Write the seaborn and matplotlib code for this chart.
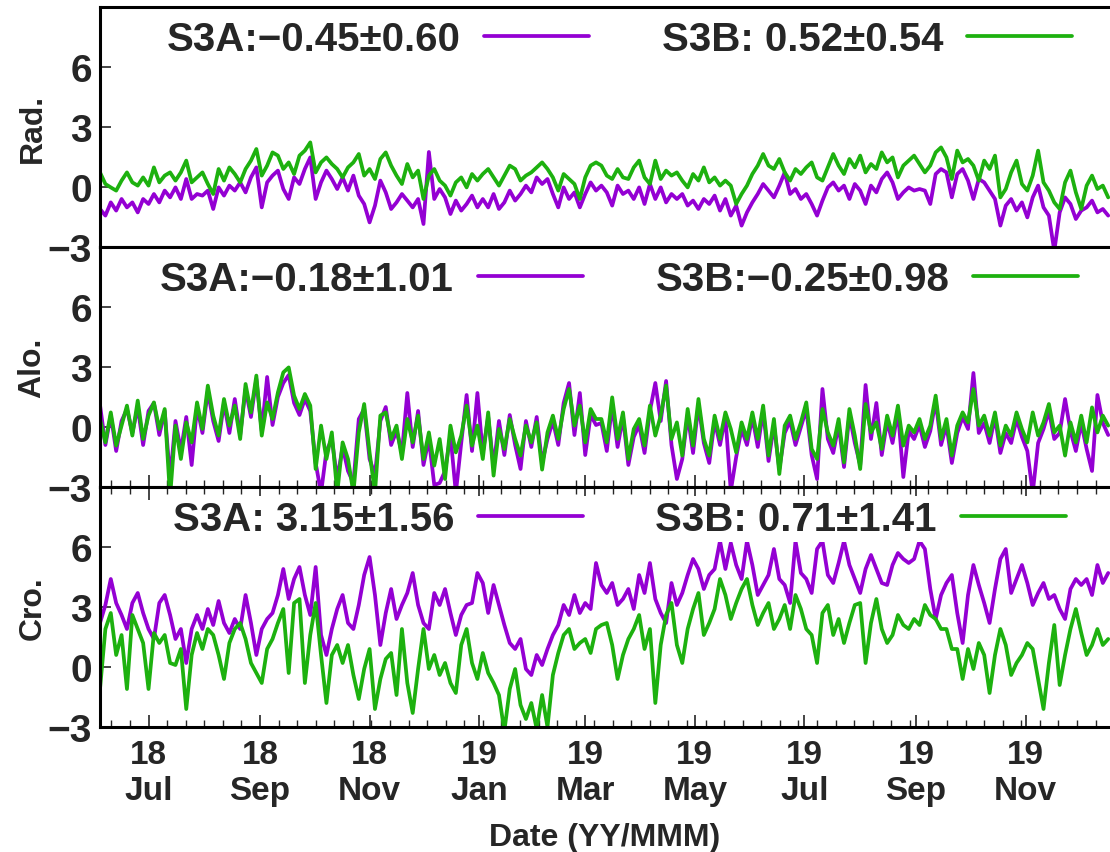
import pandas as pd
import matplotlib.pyplot as plt
import matplotlib.dates as mdates
from matplotlib.lines import Line2D
from matplotlib.ticker import AutoMinorLocator
import seaborn as sns

# Samples, one every 3 days from 2018-06-04
start_date = '2018-06-04'
step_days = 3

# Radial
rad_s3a = [-1.1, -1.43, -0.77, -1.18, -0.6, -1.02, -0.77, -1.27, -0.6, -0.85,
           -0.35, -0.77, -0.18, -0.52, -0.02, -0.6, 0.4, -0.6, -0.35, -0.43,
           -0.18, -1.1, -0.02, -0.43, 0.07, -0.18, 0.23, -0.27, 0.48, 0.98,
           -1.02, 0.23, 0.57, 0.82, -0.1, -0.6, 0.48, 0.15, 0.9, 1.48,
           -0.6, 0.23, 0.82, 0.4, -0.1, 0.48, -0.18, 0.57, -0.43, -0.85,
           -1.77, -0.93, 0.32, -0.27, -1.1, -0.77, -0.35, -0.68, -1.02, -0.6,
           -1.85, 1.75, -0.6, -0.1, -0.52, -1.35, -0.68, -1.18, -0.85, -0.43,
           -1.02, -0.6, -1.02, -0.35, -1.1, -0.77, -0.18, -0.68, -0.35, 0.07,
           -0.27, 0.48, 0.15, 0.4, -0.35, -1.02, -0.02, -0.6, -0.27, -1.02,
           -0.35, 0.23, -0.18, 0.07, -0.27, -0.93, 0.07, -0.35, -0.18, -0.6,
           -0.02, -0.85, 0.15, -0.6, -0.02, -0.77, -0.35, -0.6, -0.35, -0.93,
           -0.68, -1.1, -0.6, -0.85, -0.43, -1.18, -0.6, -1.43, -0.93, -1.93,
           -1.27, -0.77, -0.35, 0.15, -0.18, -0.52, 0.07, 0.73, -0.35, -0.1,
           -0.6, -0.35, -0.85, -1.43, -0.68, -0.02, 0.23, -0.18, 0.07, -0.6,
           0.15, -0.18, -0.85, 0.07, -0.27, 0.4, 0.73, 0.23, -0.6, -0.27,
           -0.02, -0.18, -0.1, -0.18, -0.85, 0.65, 0.9, 0.73, -0.52, 0.65,
           0.9, 0.32, -0.6, 0.4, 0.23, -0.18, -0.6, -1.93, -0.93, -0.6,
           -1.18, -0.77, -1.52, -0.52, 0.07, -1.02, -1.43, -3.2, -1.27, -0.52,
           -0.85, -1.6, -1.18, -1.02, -0.68, -1.27, -1.1, -1.43]
rad_s3b = [0.73, 0.15, -0.02, -0.18, 0.32, 0.73, 0.23, 0.07, 0.48, 0.07,
           0.98, 0.23, 0.57, 0.73, 0.32, 0.73, 1.32, 0.23, 0.48, 0.73,
           0.15, -0.35, 0.9, 0.32, 0.98, 0.65, 0.23, 0.9, 1.32, 1.9,
           0.57, 1.07, 1.73, 1.57, 0.9, 1.23, 0.65, 1.57, 1.82, 2.23,
           0.73, 1.23, 1.48, 1.15, 0.9, 0.48, 0.98, 1.23, 1.65, 0.57,
           0.9, 0.4, 1.4, 1.73, 1.07, 0.57, 0.15, 1.15, 0.48, 0.82,
           -0.6, 0.57, 0.9, 0.32, 0.07, -0.43, 0.23, 0.48, -0.02, 0.65,
           0.32, 0.65, 0.9, 0.48, 0.07, 0.57, 1.07, 0.9, 0.32, 0.57,
           0.73, 0.98, 1.23, 0.9, 0.48, -0.18, 0.65, 0.4, 0.15, -0.6,
           0.48, 1.07, 1.23, 1.07, 0.57, 0.4, 0.9, 0.48, 0.4, 0.98,
           1.32, 0.48, 0.15, 1.32, 0.4, 0.82, 0.57, 0.73, 0.32, -0.02,
           0.65, 0.32, 0.98, 0.23, 0.48, 0.07, 0.32, 0.07, -0.85, -0.35,
           0.07, 0.65, 1.07, 1.65, 1.07, 0.9, 1.4, 0.73, 0.32, 0.9,
           0.65, 0.98, 1.23, 0.48, 0.32, 0.98, 1.65, 1.07, 0.65, 1.4,
           0.98, 1.57, 0.73, 1.15, 0.9, 1.73, 1.23, 1.48, 0.48, 1.07,
           1.32, 1.57, 1.15, 0.73, 1.07, 1.73, 1.98, 1.48, 0.4, 1.82,
           1.23, 1.4, 1.07, 0.32, 1.32, 0.9, 1.57, -0.52, -0.1, 0.73,
           1.32, 0.15, -0.18, 0.57, 1.82, 0.23, -0.18, -0.77, -1.1, 0.23,
           0.82, -0.27, -1.1, 0.07, 0.57, -0.1, 0.07, -0.52]

# Along-track
alo_s3a = [1.1, -0.9, 0.6, -1.2, 0.3, 0.9, -0.3, 1.0, -0.9, 0.8,
           1.2, -0.4, 0.8, -2.6, 0.3, -1.2, 0.5, -1.9, 1.0, -0.3,
           1.8, 0.3, -0.7, 1.2, -0.3, 1.4, -0.4, 1.9, 0.5, 2.4,
           -0.2, 2.5, 0.1, 1.5, 2.2, 2.6, 1.2, 0.6, 1.4, 0.8,
           -1.8, -3.3, -1.2, -0.6, -2.6, -1.0, -2.2, -2.8, 0.4, 0.9,
           -1.6, -2.4, 0.3, 1.0, -0.9, -0.2, -1.3, 1.7, -1.0, 0.8,
           -1.9, -0.6, -2.9, -2.8, -2.2, -0.4, -3.3, -0.8, 1.6, -1.2,
           1.7, -1.3, 0.5, -2.0, 0.3, -1.4, 0.6, -0.9, -2.1, 0.3,
           -1.0, 0.5, -1.8, -0.6, 0.3, -0.9, 1.2, 2.2, -0.4, 1.7,
           -1.4, 0.6, 0.1, 0.2, -1.2, 1.1, -1.0, 0.5, -1.9, -0.5,
           0.1, -1.3, 0.8, 2.2, 0.3, 2.3, -0.9, -2.6, -1.6, 0.6,
           -1.3, 1.1, -0.8, -1.8, 0.3, -0.9, 0.5, -3.2, -1.5, -0.1,
           -0.9, 0.5, -1.0, 0.8, -1.7, 0.1, -2.1, -0.3, 0.3, -0.9,
           0.0, 0.9, -1.4, -2.6, 1.9, -0.6, -1.3, 0.1, -2.0, 0.6,
           -0.8, -1.9, 2.1, -0.6, 1.2, -1.4, 0.3, -0.8, 0.8, -2.5,
           -0.2, -0.6, 0.1, -1.0, -0.2, 1.3, -0.9, 0.1, -1.8, -0.3,
           0.5, -0.1, 2.7, -0.3, 0.2, -0.8, 0.5, -1.3, -0.3, -0.8,
           0.4, -0.5, -1.2, -3.3, -0.8, -0.1, 0.8, -0.6, -0.3, 1.4,
           -0.2, -1.2, 0.2, -1.1, -2.2, 1.6, 0.2, -0.4]
alo_s3b = [0.4, -0.77, 0.73, -0.93, 0.07, 1.07, -0.43, 1.32, -0.6, 0.57,
           1.23, -0.1, 0.9, -3.5, 0.07, -1.6, 0.23, -0.77, 1.23, -0.1,
           2.07, 0.57, -0.43, 1.4, 0.07, 1.07, -0.6, 2.15, 0.73, 2.57,
           -0.43, 1.23, 0.4, 1.73, 2.73, 2.98, 1.57, 0.9, 1.65, 1.07,
           -2.1, 0.07, -1.6, -0.27, -3.3, -0.77, -1.6, -3.3, -0.27, 1.15,
           -1.27, -3.3, 0.57, 0.73, -0.6, 0.07, -1.6, 0.4, -0.77, 0.57,
           -1.6, -0.27, -1.93, -0.6, -2.6, 0.07, -1.27, -0.43, 1.07, -0.93,
           0.07, -1.6, 0.73, -2.43, -0.1, -1.1, 0.4, -0.6, -1.43, 0.07,
           -0.77, 0.23, -2.13, -0.27, 0.57, -0.6, 0.9, 1.9, 0.07, 1.07,
           -0.77, 0.9, 0.4, 0.4, -0.77, 1.48, -0.6, 0.73, -1.6, -0.1,
           0.4, -0.93, 1.07, -0.43, 0.57, 2.07, -0.6, 0.23, -1.43, 0.9,
           -0.93, 1.4, -0.6, -1.43, 0.57, -0.6, 0.73, -0.1, -1.27, 0.23,
           -0.6, 0.73, -0.6, 1.07, -1.43, 0.4, -2.35, 0.07, 0.57, -0.6,
           0.23, 1.23, -1.1, -1.6, 0.9, -0.27, -0.93, 0.4, -1.77, 0.9,
           -0.43, -2.1, 1.15, -0.27, 0.23, -1.1, 0.57, -0.43, 1.07, -0.93,
           0.07, -0.27, 0.4, -0.6, 0.07, 1.57, -0.6, 0.4, -1.43, 0.07,
           0.73, 0.23, 1.9, 0.07, 0.57, -0.43, 0.73, -0.93, 0.07, -0.43,
           0.73, -0.1, -0.77, 0.73, -0.43, 0.23, 1.15, -0.27, 0.07, -1.43,
           0.23, -0.77, 0.57, -0.77, 0.98, -0.27, 0.57, 0.07]

# Cross-track
cro_s3a = [2.2, 3.1, 4.4, 3.2, 2.6, 1.9, 3.2, 3.7, 2.7, 1.9,
           1.4, 3.2, 3.6, 2.6, 1.4, 1.9, 0.2, 1.9, 2.6, 1.9,
           2.9, 2.1, 3.3, 2.2, 1.7, 2.4, 1.9, 3.6, 2.2, 0.6,
           1.9, 2.4, 2.7, 3.6, 4.9, 3.4, 4.4, 5.0, 3.6, 2.6,
           5.0, 1.6, 0.6, 1.9, 2.9, 3.6, 2.2, 1.9, 3.1, 4.6,
           5.5, 3.6, 1.1, 2.7, 3.9, 2.4, 3.1, 3.7, 4.7, 3.1,
           2.2, 1.9, 3.7, 3.1, 3.9, 2.7, 1.6, 2.6, 3.1, 3.2,
           4.7, 4.2, 2.7, 4.1, 3.1, 2.1, 1.2, 0.9, 1.4, -0.1,
           -0.4, 0.6, 0.1, 0.9, 1.6, 2.1, 3.1, 2.6, 3.6, 2.7,
           3.2, 2.9, 5.2, 4.1, 3.7, 4.2, 3.1, 3.4, 3.9, 2.9,
           4.6, 3.7, 5.2, 3.4, 2.7, 2.2, 4.2, 3.1, 3.7, 4.6,
           5.4, 4.9, 3.9, 4.6, 4.9, 6.3, 4.9, 6.2, 5.1, 4.4,
           6.3, 5.1, 3.6, 4.1, 4.6, 5.9, 4.4, 4.1, 3.2, 6.3,
           4.7, 4.4, 3.7, 5.9, 6.3, 4.6, 4.2, 5.2, 6.3, 5.1,
           4.4, 3.7, 4.9, 5.6, 4.9, 4.2, 4.1, 5.1, 5.7, 5.4,
           5.2, 5.4, 6.3, 5.9, 3.9, 2.4, 3.6, 4.2, 4.6, 2.7,
           1.2, 3.6, 5.1, 4.1, 3.2, 2.2, 3.9, 5.4, 5.9, 3.7,
           4.4, 5.1, 4.2, 3.1, 3.7, 4.2, 3.4, 3.6, 2.9, 2.4,
           3.9, 4.4, 4.1, 4.4, 3.6, 5.1, 4.2, 4.7]
cro_s3b = [-1.1, 1.9, 2.7, 0.6, 1.6, -1.1, 2.6, 1.9, 1.2, -1.1,
           1.7, 1.2, 1.6, 0.2, 0.1, 0.9, -2.1, 0.6, 1.7, 0.9,
           1.9, 1.6, 0.6, -0.6, 1.2, 1.9, 2.2, 1.4, 0.2, -0.3,
           -0.8, 0.9, 1.4, 2.2, 2.9, -0.3, 3.2, 3.4, -0.8, 1.6,
           3.2, 0.6, -1.8, 0.6, 1.1, 0.2, 1.1, -0.4, -1.6, -0.1,
           0.9, -2.1, -0.6, 0.4, 0.7, -1.4, 1.9, -0.8, -2.3, -0.1,
           1.9, -0.1, 0.6, -0.4, 0.2, -0.8, -1.3, 1.1, 1.9, 0.2,
           -0.6, 0.7, -0.3, -0.8, -1.4, -3.2, -1.1, -0.1, -1.9, -2.6,
           -1.8, -3.1, -1.4, -3.0, -0.4, 0.7, 1.6, 1.9, 0.9, 1.2,
           1.4, 0.7, 1.9, 2.1, 2.2, 1.1, -0.6, 0.6, 1.4, 1.9,
           2.6, 0.9, 1.9, -1.8, 1.1, 2.6, 3.2, 1.1, 0.2, 1.9,
           2.9, 3.7, 1.6, 2.2, 2.9, 4.4, 3.6, 2.4, 3.2, 3.9,
           4.4, 3.1, 2.1, 2.7, 3.2, 1.9, 2.4, 3.1, 1.9, 3.6,
           2.9, 1.9, 1.6, 0.2, 2.7, 3.1, 1.6, 2.4, 1.2, 2.2,
           3.1, 3.2, 0.2, 2.2, 3.4, 1.9, 1.2, 1.6, 2.6, 2.1,
           1.9, 2.4, 2.1, 3.1, 2.6, 2.4, 1.9, 1.9, 0.9, 0.9,
           -0.6, 0.9, -0.1, 1.2, 0.6, -1.3, 0.6, 1.9, 1.1, -0.4,
           0.2, 0.6, 1.2, 0.9, -0.6, -2.1, 0.2, 2.1, -0.9, 0.6,
           1.9, 2.9, 1.7, 0.6, 1.1, 1.9, 1.1, 1.4]

panel_names = ['Rad.', 'Alo.', 'Cro.']
s3a_labels = ['S3A:\u22120.45\u00b10.60', 'S3A:\u22120.18\u00b11.01', 'S3A: 3.15\u00b11.56']
s3b_labels = ['S3B: 0.52\u00b10.54', 'S3B:\u22120.25\u00b10.98', 'S3B: 0.71\u00b11.41']

purple = '#9400d3'
green = '#1db10f'

sns.set_style('ticks')
plt.rcParams['font.family'] = ['Liberation Sans', 'DejaVu Sans']
plt.rcParams['font.weight'] = 'bold'
plt.rcParams['axes.labelweight'] = 'bold'

dates = pd.date_range(start_date, periods=len(rad_s3a), freq=f'{step_days}D')
series = [(rad_s3a, rad_s3b), (alo_s3a, alo_s3b), (cro_s3a, cro_s3b)]

fig = plt.figure(figsize=(11.1, 8.53), dpi=100)
W, H = 1110, 853
tops = [8, 248, 488]
for k in range(3):
    ax = fig.add_axes([100 / W, 1 - (tops[k] + 240) / H, 1010 / W, 240 / H])

    a_vals, b_vals = series[k]
    df = pd.DataFrame({'Date': dates, 'S3A': a_vals, 'S3B': b_vals})
    df = df.melt(id_vars='Date', var_name='Sat', value_name='Value')
    sns.lineplot(data=df, x='Date', y='Value', hue='Sat',
                 palette={'S3A': purple, 'S3B': green},
                 estimator=None, linewidth=2.7, legend=False, ax=ax)

    ax.set_xlim(pd.Timestamp('2018-06-04'), pd.Timestamp('2019-12-18'))
    ax.set_ylim(-3, 9)
    ax.set_yticks([-3, 0, 3, 6])
    ax.set_ylabel(panel_names[k], fontsize=23)
    ax.yaxis.set_label_coords(-0.052, 0.5)
    ax.set_xlabel('')
    for side in ['top', 'bottom', 'left']:
        ax.spines[side].set_linewidth(2.2)
        ax.spines[side].set_color('black')
    ax.spines['right'].set_visible(False)

    ax.xaxis.set_major_locator(mdates.MonthLocator(bymonth=[1, 3, 5, 7, 9, 11]))
    ax.xaxis.set_major_formatter(mdates.DateFormatter('%y\n%b'))
    ax.xaxis.set_minor_locator(AutoMinorLocator(6))
    ax.tick_params(axis='y', direction='in', length=8, width=1.2,
                   labelsize=28, pad=6, right=False)
    ax.tick_params(axis='x', which='major', direction='in', length=9, width=1.2)
    ax.tick_params(axis='x', which='minor', direction='in', length=5, width=1.0)

    if k == 0:
        ax.tick_params(axis='x', which='both', bottom=False, top=False,
                       labelbottom=False)
    elif k == 1:
        ax.tick_params(axis='x', which='both', bottom=True, top=False,
                       labelbottom=False)
    else:
        ax.tick_params(axis='x', which='both', bottom=True, top=True,
                       labelbottom=True, labelsize=24, pad=9)
        ax.set_xlabel('Date (YY/MMM)', fontsize=23, labelpad=11)

    handles = [Line2D([], [], color=purple, linewidth=2.7),
               Line2D([], [], color=green, linewidth=2.7)]
    leg = ax.legend(handles, [s3a_labels[k], s3b_labels[k]], ncol=2,
                    markerfirst=False, loc='center',
                    bbox_to_anchor=(0.514, 0.867), fontsize=29,
                    handlelength=2.6, handletextpad=0.6, columnspacing=1.8,
                    frameon=True, fancybox=False, borderpad=0.1,
                    framealpha=1.0)
    leg.get_frame().set_facecolor('white')
    leg.get_frame().set_edgecolor('none')

fig.savefig('out.png', dpi=100)
